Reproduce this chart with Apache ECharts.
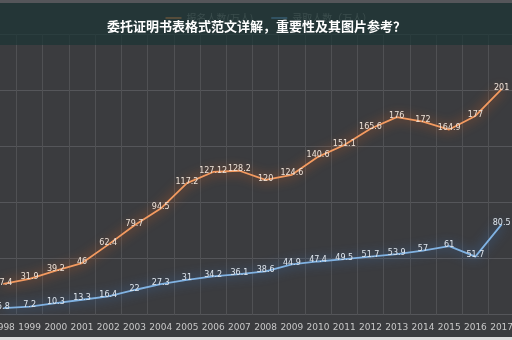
<!DOCTYPE html>
<html>
<head>
<meta charset="utf-8">
<script src="https://cdn.jsdelivr.net/npm/echarts@6/dist/echarts.min.js"></script>
<style>html,body{margin:0;padding:0;background:#3b3c3f;overflow:hidden;width:512px;height:340px;position:relative;}
#c{position:absolute;left:-11.5px;top:0;width:527px;height:340px;}</style>
</head>
<body>
<div id="c"></div>
<script>
var titleText = '委托证明书表格式范文详解，重要性及其图片参考？';
var years = ['1998','1999','2000','2001','2002','2003','2004','2005','2006','2007','2008','2009','2010','2011','2012','2013','2014','2015','2016','2017'];
var applicants = [27.4,31.9,39.2,46,62.4,79.7,94.5,117.2,127.12,128.2,120,124.6,140.6,151.1,165.6,176,172,164.9,177,201];
var admitted = [5.8,7.2,10.3,13.3,16.4,22,27.3,31,34.2,36.1,38.6,44.9,47.4,49.5,51.7,53.9,57,61,51.7,80.5];
var seriesNames = ['报名人数(万人)','录取人数（万人）'];

var SHIFT = 11.5; // div is shifted left so the first band starts off-canvas
var chart = echarts.init(document.getElementById('c'), null, {renderer:'canvas'});
function labelStyle(c){ return {show:true, position:'top', offset:[0,8], color:c, fontSize:8, fontFamily:'DejaVu Sans'}; }
chart.setOption({
  backgroundColor:'#3b3c3f',
  animation:false,
  legend:{top:8, left:160+SHIFT, itemGap:18, itemWidth:16, itemHeight:2, icon:'rect',
    data:seriesNames, textStyle:{color:'#8a8a8a', fontSize:10, fontFamily:'Noto Sans CJK SC'}},
  grid:{left:0, right:0, top:34, bottom:25.3},
  xAxis:{type:'category', data:years, boundaryGap:true,
    axisLine:{show:false}, axisTick:{show:false},
    axisLabel:{color:'#c8c8c8', fontSize:9, margin:8, fontFamily:'DejaVu Sans', interval:0},
    splitLine:{show:true, lineStyle:{color:'#505154', width:1}}},
  yAxis:{type:'value', min:0, max:250, interval:50,
    axisLine:{show:false}, axisTick:{show:false}, axisLabel:{show:false},
    splitLine:{show:true, lineStyle:{color:'#55565a', width:1}}},
  series:[
    {name:seriesNames[0], type:'line', data:applicants, symbol:'circle', symbolSize:1,
     itemStyle:{color:'#e8884a'},
     lineStyle:{color:'#f39a60', width:1.8, shadowBlur:12, shadowColor:'rgba(240,105,30,1)'},
     label:labelStyle('#eee2d8')},
    {name:seriesNames[1], type:'line', data:admitted, symbol:'circle', symbolSize:1,
     itemStyle:{color:'#6a9fd6'},
     lineStyle:{color:'#80b2e2', width:1.8, shadowBlur:12, shadowColor:'rgba(60,125,210,1)'},
     label:labelStyle('#dfe6ee')}
  ],
  graphic:[
    {type:'rect', z:100, shape:{x:0, y:0, width:527, height:3}, style:{fill:'#55565a'}},
    {type:'rect', z:100, shape:{x:0, y:3, width:527, height:42}, style:{fill:'rgba(28,52,52,0.72)'}},
    {type:'rect', z:100, shape:{x:0, y:337, width:527, height:3}, style:{fill:'#dcdcdc'}},
    {type:'text', z:200, x:256+SHIFT, y:26, style:{text:titleText, fill:'#ffffff', align:'center', verticalAlign:'middle',
      font:'bold 13px "Noto Sans CJK SC"'}}
  ]
});
</script>
</body>
</html>
